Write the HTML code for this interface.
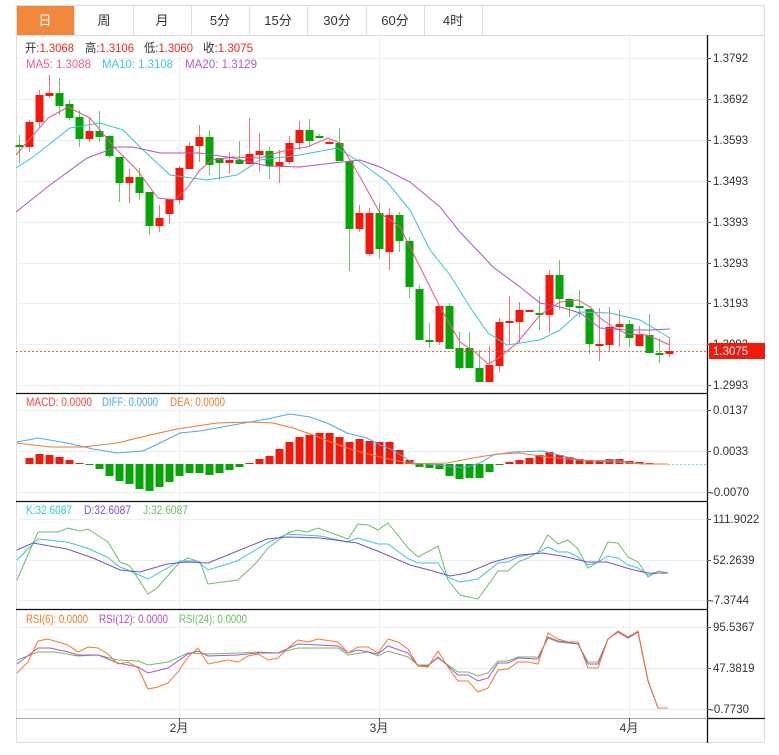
<!DOCTYPE html>
<html><head><meta charset="utf-8"><style>
body{margin:0;background:#fff;width:779px;height:755px;overflow:hidden;font-family:"Liberation Sans","Noto Sans CJK SC",sans-serif;}
svg{position:absolute;left:0;top:0}
</style></head><body>
<svg id="s" width="779" height="755" xmlns="http://www.w3.org/2000/svg" font-family="Liberation Sans, Noto Sans CJK SC, sans-serif" font-size="12">
<rect x="16.5" y="5.5" width="748" height="737" fill="none" stroke="#ddd"/>
<line x1="16" y1="35.5" x2="765" y2="35.5" stroke="#ddd"/>
<rect x="17" y="6" width="57" height="29" fill="#f0893c"/>
<g stroke="#ddd"><line x1="74.5" y1="5" x2="74.5" y2="35"/><line x1="133.5" y1="5" x2="133.5" y2="35"/><line x1="191.5" y1="5" x2="191.5" y2="35"/><line x1="249.5" y1="5" x2="249.5" y2="35"/><line x1="307.5" y1="5" x2="307.5" y2="35"/><line x1="366.5" y1="5" x2="366.5" y2="35"/><line x1="424.5" y1="5" x2="424.5" y2="35"/><line x1="482.5" y1="5" x2="482.5" y2="35"/></g>
<g font-size="13" text-anchor="middle" fill="#333"><text x="45" y="25" fill="#fff">日</text><text x="104" y="25">周</text><text x="162" y="25">月</text><text x="220" y="25">5分</text><text x="278" y="25">15分</text><text x="337" y="25">30分</text><text x="395" y="25">60分</text><text x="453" y="25">4时</text></g>
<g stroke="#e9eff3" stroke-width="1">
<line x1="16" y1="58.5" x2="707" y2="58.5"/><line x1="16" y1="99.5" x2="707" y2="99.5"/><line x1="16" y1="140.5" x2="707" y2="140.5"/><line x1="16" y1="181.5" x2="707" y2="181.5"/><line x1="16" y1="222.5" x2="707" y2="222.5"/><line x1="16" y1="263.5" x2="707" y2="263.5"/><line x1="16" y1="303.5" x2="707" y2="303.5"/><line x1="16" y1="344.5" x2="707" y2="344.5"/><line x1="16" y1="385.5" x2="707" y2="385.5"/>
<line x1="16" y1="410.5" x2="707" y2="410.5"/><line x1="16" y1="451.5" x2="707" y2="451.5"/><line x1="16" y1="492.5" x2="707" y2="492.5"/>
<line x1="16" y1="519.5" x2="707" y2="519.5"/><line x1="16" y1="560.5" x2="707" y2="560.5"/><line x1="16" y1="600.5" x2="707" y2="600.5"/>
<line x1="16" y1="627.5" x2="707" y2="627.5"/><line x1="16" y1="668.5" x2="707" y2="668.5"/><line x1="16" y1="709.5" x2="707" y2="709.5"/>
<line x1="179.5" y1="35" x2="179.5" y2="718"/><line x1="379.5" y1="35" x2="379.5" y2="718"/><line x1="629.5" y1="35" x2="629.5" y2="718"/>
</g>
<g id="cd"></g>
<polyline fill="none" stroke="#ee4f86" stroke-width="1" points="16,155 48,118 68,107 90,118 115,148 137,170 158,198 175,200 187,188 200,170 212,160 233,157 260,158 287,150 307,147 328,138 340,143 360,177 380,213 400,227 418,263 440,307 460,342 475,352 488,364 500,357 517,343 540,315 560,302 578,300 590,307 600,318 613,327 627,334 647,335 670,345"/>
<polyline fill="none" stroke="#33c3dc" stroke-width="1" points="16,168 33,157 70,128 100,123 123,130 143,150 170,175 207,180 237,175 260,160 300,155 337,148 360,162 387,182 410,210 430,250 450,275 470,307 488,333 507,345 540,340 560,330 580,312 610,313 640,320 670,338"/>
<polyline fill="none" stroke="#b052c8" stroke-width="1" points="16,212 50,185 87,158 117,147 133,147 160,153 200,153 233,158 267,166 300,167 333,163 360,160 380,167 410,182 440,207 460,232 493,267 520,287 540,303 560,307 580,313 600,328 627,330 650,330 670,329"/>
<line x1="16" y1="351.5" x2="707" y2="351.5" stroke="#f03a2a" stroke-dasharray="2,2" stroke-opacity="0.8"/>
<g fill="#f02a1c"><text x="25" y="52" textLength="49" lengthAdjust="spacingAndGlyphs"><tspan fill="#333">开:</tspan>1.3068</text><text x="85" y="52" textLength="49" lengthAdjust="spacingAndGlyphs"><tspan fill="#333">高:</tspan>1.3106</text><text x="144" y="52" textLength="49" lengthAdjust="spacingAndGlyphs"><tspan fill="#333">低:</tspan>1.3060</text><text x="203" y="52" textLength="50" lengthAdjust="spacingAndGlyphs"><tspan fill="#333">收:</tspan>1.3075</text></g>
<text x="26" y="68" fill="#ec5f8c" textLength="65" lengthAdjust="spacingAndGlyphs">MA5: 1.3088</text><text x="102" y="68" fill="#3fc7dc" textLength="71" lengthAdjust="spacingAndGlyphs">MA10: 1.3108</text><text x="185" y="68" fill="#b25ccc" textLength="72" lengthAdjust="spacingAndGlyphs">MA20: 1.3129</text>
<g id="mb"></g>
<polyline fill="none" stroke="#4aa8f2" points="17,442 38,438 67,443 93,449 117,453 143,451 160,443 180,433 200,431 233,425 267,419 290,414 310,417 327,423 347,433 367,438 380,445 393,450 413,463 440,465 463,468 480,463 493,455 513,452 543,451 567,457 587,461 613,460 633,463 643,464"/>
<polyline fill="none" stroke="#f5782a" points="17,443 50,447 83,447 117,443 150,435 177,429 217,423 250,422 273,423 293,428 313,435 333,443 353,450 380,457 413,464 447,463 473,458 497,454 520,453 547,457 580,460 613,462 643,464 668,464"/>
<line x1="668" y1="464.5" x2="707" y2="464.5" stroke="#7fd3ea" stroke-dasharray="2,2"/>
<text x="26" y="406" fill="#f24b3c" textLength="66" lengthAdjust="spacingAndGlyphs">MACD: 0.0000</text><text x="102" y="406" fill="#4aa8f2" textLength="56" lengthAdjust="spacingAndGlyphs">DIFF: 0.0000</text><text x="170" y="406" fill="#f5782a" textLength="55" lengthAdjust="spacingAndGlyphs">DEA: 0.0000</text>
<polyline fill="none" stroke="#6abf62" points="17,580 38,532 58,532 68,528 80,531 88,529 108,542 120,562 130,566 148,594 157,588 180,562 188,558 200,562 208,584 238,580 257,562 268,548 288,533 297,530 307,532 318,528 348,539 358,524 368,525 378,530 388,523 408,548 418,557 438,546 448,580 460,595 478,599 498,571 508,571 518,562 528,558 538,552 548,535 558,544 568,540 578,549 588,568 598,562 608,542 618,543 628,557 638,562 648,577 658,571 668,573"/>
<polyline fill="none" stroke="#36c6dc" points="17,560 38,539 67,542 87,548 107,557 120,567 130,571 148,579 180,561 197,561 208,570 237,561 267,543 287,534 320,536 347,542 358,538 378,544 388,544 407,558 418,563 438,563 447,577 460,582 478,579 498,563 508,562 518,557 537,553 548,547 558,552 568,552 578,557 588,565 598,562 608,556 618,558 628,565 638,568 648,575 658,573 668,573"/>
<polyline fill="none" stroke="#7a4fd0" points="17,550 33,543 67,549 93,558 120,570 140,572 167,564 187,562 208,563 240,550 267,539 287,537 320,538 357,543 380,552 410,565 433,571 450,576 467,573 493,562 520,555 543,553 567,557 587,562 607,562 630,569 647,573 668,573"/>
<text x="26" y="514" fill="#36c6dc" textLength="46" lengthAdjust="spacingAndGlyphs">K:32.6087</text><text x="84" y="514" fill="#7a4fd0" textLength="47" lengthAdjust="spacingAndGlyphs">D:32.6087</text><text x="143" y="514" fill="#6abf62" textLength="45" lengthAdjust="spacingAndGlyphs">J:32.6087</text>
<polyline fill="none" stroke="#6abf62" points="17,660 38,652 55,652 78,656 98,655 118,660 138,661 148,665 168,662 188,653 208,654 238,653 258,652 278,653 298,648 338,648 348,655 368,652 378,656 388,651 408,657 418,665 428,665 438,658 458,672 468,672 478,676 488,673 498,661 508,661 518,657 538,657 548,638 558,642 578,644 588,662 598,662 608,639 618,632 628,638 638,632 648,681 658,708 668,708"/>
<polyline fill="none" stroke="#b150c8" points="17,664 38,648 50,648 68,652 78,655 98,655 118,663 138,667 148,673 168,668 188,654 198,651 208,656 238,655 258,653 278,653 298,644 318,645 338,646 348,653 358,650 378,654 388,646 408,653 418,666 428,666 438,657 458,675 468,675 478,681 488,678 498,663 508,663 518,658 538,659 548,637 558,641 578,644 588,664 598,664 608,639 618,632 628,638 638,632 648,681 658,708 668,708"/>
<polyline fill="none" stroke="#f5782a" points="17,673 28,662 38,641 48,639 68,645 78,652 88,647 98,648 108,654 118,664 128,662 138,668 148,689 158,687 168,683 178,672 188,657 198,648 208,664 228,660 238,662 248,656 258,654 268,660 278,658 288,648 298,640 308,642 318,639 338,642 348,653 358,647 368,647 378,653 388,639 398,642 408,649 418,666 428,667 438,651 448,667 458,681 468,681 478,692 488,688 498,670 508,669 518,662 528,662 538,664 548,633 558,639 568,642 578,642 588,668 598,668 608,639 618,631 628,637 638,631 648,680 658,708 668,708"/>
<text x="26" y="623" fill="#f5782a" textLength="62" lengthAdjust="spacingAndGlyphs">RSI(6): 0.0000</text><text x="99" y="623" fill="#b150c8" textLength="69" lengthAdjust="spacingAndGlyphs">RSI(12): 0.0000</text><text x="179" y="623" fill="#6abf62" textLength="68" lengthAdjust="spacingAndGlyphs">RSI(24): 0.0000</text>
<g stroke="#111" stroke-width="1.3">
<line x1="16" y1="393.5" x2="707" y2="393.5"/><line x1="16" y1="501.5" x2="707" y2="501.5"/><line x1="16" y1="609.5" x2="707" y2="609.5"/>
<line x1="707.5" y1="35" x2="707.5" y2="743"/><line x1="707" y1="718.5" x2="765" y2="718.5"/>
</g>
<line x1="16" y1="718.5" x2="707" y2="718.5" stroke="#aaa"/>
<g stroke="#555"><line x1="179.5" y1="718" x2="179.5" y2="722"/><line x1="379.5" y1="718" x2="379.5" y2="722"/><line x1="629.5" y1="718" x2="629.5" y2="722"/></g>
<g fill="#333" text-anchor="middle"><text x="179" y="732">2月</text><text x="379" y="732">3月</text><text x="629" y="732">4月</text></g>
<g fill="#333" font-size="11.5">
<text x="713" y="62">1.3792</text><text x="713" y="103">1.3692</text><text x="713" y="144">1.3593</text><text x="713" y="185">1.3493</text><text x="713" y="226">1.3393</text><text x="713" y="267">1.3293</text><text x="713" y="307">1.3193</text><text x="713" y="348">1.3093</text><text x="713" y="389">1.2993</text>
<text x="713" y="414">0.0137</text><text x="713" y="455">0.0033</text><text x="710" y="496">-0.0070</text>
<text x="713" y="523">111.9022</text><text x="713" y="564">52.2639</text><text x="710" y="604">-7.3744</text>
<text x="713" y="631">95.5367</text><text x="713" y="672">47.3819</text><text x="710" y="713">-0.7730</text>
</g>
<g stroke="#555" id="tk"></g>
<rect x="709" y="343" width="56" height="16" fill="#f2180c"/>
<text x="713" y="355" fill="#fff" font-size="11.5">1.3075</text>
</svg>
<script>
var C=[["g",145,147,135,163],["r",122,147,120,152],["r",95,122,90,128],["r",93,96,75,98],["g",93,106,78,115],["g",104,118,100,120],["g",117,139,110,147],["r",131,139,117,142],["g",131,137,111,142],["g",136,156,135,158],["g",157,183,157,202],["r",177,183,169,203],["g",177,193,168,200],["g",192,226,192,235],["r",218,226,205,232],["r",199,214,199,224],["r",168,200,166,204],["r",146,169,142,169],["r",137,146,125,162],["g",137,165,130,175],["g",158,163,158,180],["r",160,163,152,174],["g",160,164,141,164],["r",154,164,118,165],["r",151,155,133,172],["g",151,166,147,179],["r",162,166,150,183],["r",143,162,136,164],["r",130,143,121,150],["g",130,141,119,147],["g",136,138,134,138],["r",142,143,140,144],["g",143,161,128,161],["g",161,229,161,271],["r",213,229,205,232],["r",213,254,208,256],["g",213,249,203,258],["r",215,252,208,270],["g",215,241,212,252],["g",241,287,237,298],["g",289,340,285,340],["g",340,342,323,348],["r",306,342,306,345],["g",306,349,303,349],["g",348,368,332,370],["g",348,368,332,368],["g",368,382,350,382],["r",365,382,346,382],["r",322,366,318,372],["r",321,323,296,345],["r",310,322,302,343],["r",310,312,310,312],["g",313,315,296,330],["r",275,315,270,333],["g",275,299,260,310],["g",299,307,298,317],["g",306,308,290,317],["g",309,344,309,354],["r",344,345,308,361],["r",327,345,307,351],["r",324,327,310,347],["g",324,338,320,347],["r",334,346,326,346],["g",335,353,314,354],["g",353,354,338,363],["r",351,354,338,357]];
var R="#f2180c",G="#05a505",NS="http://www.w3.org/2000/svg";
function el(p,t,a){var e=document.createElementNS(NS,t);for(var k in a)e.setAttribute(k,a[k]);p.appendChild(e);}
var cd=document.getElementById("cd");
C.forEach(function(c,i){var x=19+10*i,col=c[0]=="r"?R:G;
el(cd,"line",{x1:x+.5,x2:x+.5,y1:c[3],y2:c[4],stroke:col,"stroke-opacity":.6});
el(cd,"rect",{x:x-3.5,y:c[1],width:8,height:Math.max(2,c[2]-c[1]),fill:col});});
var M={1:458,2:454,3:455,4:457,5:460,6:463,7:465,8:469,9:476,10:481,11:484,12:489,13:491,14:487,15:482,16:476,17:473,18:473,19:475,20:473,21:470,22:467,23:463,24:459,25:456,26:449,27:442,28:437,29:435,30:433,31:433,32:437,33:442,34:439,35:441,36:442,37:442,38:450,39:460,40:467,41:468,42:469,43:476,44:479,45:478,46:478,47:472,48:465,49:462,50:460,51:458,52:455,53:452,54:455,55:457,56:459,57:460,58:461,59:459,60:459,61:461,62:462,63:463};
var mb=document.getElementById("mb");
for(var i in M){var x=19+10*i,y=M[i];if(y<464)el(mb,"rect",{x:x-3.5,y:y,width:8,height:464-y,fill:R});else el(mb,"rect",{x:x-3.5,y:464,width:8,height:Math.max(1,y-464),fill:G});}
var tk=document.getElementById("tk");
[58,99,140,181,222,263,303,344,385,410,451,492,519,560,600,627,668,709].forEach(function(y){el(tk,"line",{x1:707,x2:711,y1:y+.5,y2:y+.5});});
</script>
</body></html>
